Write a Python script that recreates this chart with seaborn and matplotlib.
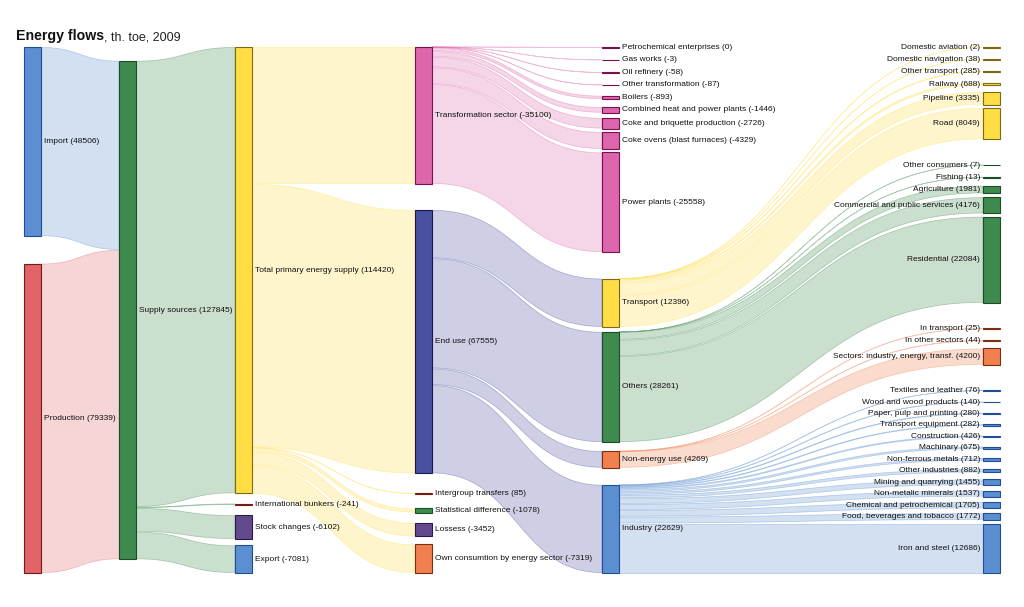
import numpy as np
import matplotlib
matplotlib.use("Agg")
import matplotlib.pyplot as plt
import seaborn as sns
from matplotlib.colors import to_rgb
from matplotlib.patches import Rectangle

# ---------------- data ----------------
title_main = "Energy flows"
title_sub = ", th. toe, 2009"

col0_names = ["Import", "Production"]
col0_values = [48506, 79339]

col1_names = ["Supply sources"]
col1_values = [127845]
col1_parents = [["Import", "Production"]]

col2_names = ["Total primary energy supply", "International bunkers", "Stock changes", "Export"]
col2_values = [114420, -241, -6102, -7081]
col2_parents = ["Supply sources"] * 4

col3_names = ["Transformation sector", "End use", "Intergroup transfers",
              "Statistical difference", "Lossess", "Own consumtion by energy sector"]
col3_values = [-35100, 67555, 85, -1078, -3452, -7319]
col3_parents = ["Total primary energy supply"] * 6

col4_names = ["Petrochemical enterprises", "Gas works", "Oil refinery", "Other transformation",
              "Boilers", "Combined heat and power plants", "Coke and briquette production",
              "Coke ovens (blast furnaces)", "Power plants",
              "Transport", "Others", "Non-energy use", "Industry"]
col4_values = [0, -3, -58, -87, -893, -1446, -2726, -4329, -25558,
               12396, 28261, 4269, 22629]
col4_parents = ["Transformation sector"] * 9 + ["End use"] * 4

col5_names = ["Domestic aviation", "Domestic navigation", "Other transport", "Railway",
              "Pipeline", "Road",
              "Other consumers", "Fishing", "Agriculture", "Commercial and public services",
              "Residential",
              "In transport", "In other sectors", "Sectors: industry, energy, transf.",
              "Textiles and leather", "Wood and wood products", "Paper, pulp and printing",
              "Transport equipment", "Construction", "Machinary", "Non-ferrous metals",
              "Other industries", "Mining and quarrying", "Non-metalic minerals",
              "Chemical and petrochemical", "Food, beverages and tobacco", "Iron and steel"]
col5_values = [2, 38, 285, 688, 3335, 8049,
               7, 13, 1981, 4176, 22084,
               25, 44, 4200,
               76, 140, 280, 282, 426, 675, 712, 882, 1455, 1537, 1705, 1772, 12686]
col5_parents = ["Transport"] * 6 + ["Others"] * 5 + ["Non-energy use"] * 3 + ["Industry"] * 13

# ---------------- style / layout ----------------
PAL = {
    "blue":   ("#5B8FD1", "#1F4E96"),
    "red":    ("#E0646A", "#7A1A14"),
    "green":  ("#3F8A4E", "#1B4D26"),
    "yellow": ("#FFDD44", "#7A6A1A"),
    "pink":   ("#DD66AA", "#7A1050"),
    "indigo": ("#4A50A0", "#1A1A4A"),
    "purple": ("#634A8E", "#2A1A4A"),
    "orange": ("#F08050", "#7A3010"),
}
col_colors = [
    ["blue", "red"],
    ["green"],
    ["yellow", "red", "purple", "blue"],
    ["pink", "indigo", "red", "green", "purple", "orange"],
    ["pink"] * 9 + ["yellow", "green", "orange", "blue"],
    ["yellow"] * 6 + ["green"] * 5 + ["orange"] * 3 + ["blue"] * 13,
]
COL_X = [24, 119, 235, 415, 602, 983]
NODE_W = 17
TOP, BOTTOM = 47, 573
SCALE = 0.00390          # px per th. toe
SLOT_MIN = 9
H_MIN = 0.8
COL_GROUPS = [[1, 1], [1], [1, 1, 1, 1], [1, 1, 4], [9, 4], [6, 5, 3, 13]]
# spacing between neighbours inside a group (number or list of gaps)
COL_INNER = [[0, 0], [0], [0, 0, 0, 0], [0, 0, 8], [3.5, [5, 9, 17]],
             [3.2, 3.2, 3.2, 2.45]]
# relative weights of the gaps between groups
COL_GW = [[1], [1], [1, 1, 1], [1.25, 0.75], [1], [1, 1, 1]]

sns.set_theme(style="white")
plt.rcParams['font.family'] = ['Liberation Sans', 'DejaVu Sans']

columns = [
    (col0_names, col0_values),
    (col1_names, col1_values),
    (col2_names, col2_values),
    (col3_names, col3_values),
    (col4_names, col4_values),
    (col5_names, col5_values),
]


def gap_list(spec, n):
    if isinstance(spec, (list, tuple)):
        return list(spec)
    return [spec] * max(n - 1, 0)


# ---------------- layout ----------------
nodes = {}
for ci, (names, values) in enumerate(columns):
    hpx = [max(abs(v) * SCALE, H_MIN) for v in values]
    slot = [max(h, SLOT_MIN) for h in hpx]
    groups = COL_GROUPS[ci]
    inner = [gap_list(s, n) for s, n in zip(COL_INNER[ci], groups)]
    if len(names) == 1:
        tops = [(TOP + BOTTOM) / 2 - hpx[0] / 2]
    else:
        start = TOP - (slot[0] - hpx[0]) / 2
        end = BOTTOM + (slot[-1] - hpx[-1]) / 2
        used = sum(slot) + sum(sum(g) for g in inner)
        gw = COL_GW[ci]
        free = end - start - used
        Gs = [free * w / sum(gw) for w in gw]
        tops = []
        y = start
        idx = 0
        for gi, n in enumerate(groups):
            for j in range(n):
                tops.append(y + (slot[idx] - hpx[idx]) / 2)
                y += slot[idx]
                if j < n - 1:
                    y += inner[gi][j]
                idx += 1
            if gi < len(groups) - 1:
                y += Gs[gi]
    for i, name in enumerate(names):
        nodes[name] = dict(col=ci, x=COL_X[ci], top=tops[i], h=hpx[i],
                           value=values[i], color=col_colors[ci][i])

# links
links = []
for src in col1_parents[0]:
    links.append((src, col1_names[0], abs(nodes[src]["value"])))
for names, values, parents in [(col2_names, col2_values, col2_parents),
                               (col3_names, col3_values, col3_parents),
                               (col4_names, col4_values, col4_parents),
                               (col5_names, col5_values, col5_parents)]:
    for n, v, p in zip(names, values, parents):
        links.append((p, n, abs(v)))

# ---------------- draw ----------------
fig = plt.figure(figsize=(10.24, 6.07), dpi=100)
ax = fig.add_axes([0, 0, 1, 1])
ax.set_xlim(0, 1024)
ax.set_ylim(607, 0)
ax.axis("off")

out_off = {n: 0.0 for n in nodes}
in_total = {n: 0.0 for n in nodes}
for s, t, v in links:
    in_total[t] += v * SCALE
in_off = {}
for n, d in nodes.items():
    in_off[n] = max(0.0, (d["h"] - in_total[n]) / 2)

t_par = np.linspace(0, 1, 80)
for s, t, v in links:
    S, T = nodes[s], nodes[t]
    w = v * SCALE
    y0 = S["top"] + out_off[s]
    y1 = T["top"] + in_off[t]
    out_off[s] += w
    in_off[t] += w
    x0 = S["x"] + NODE_W
    x1 = T["x"]
    xs = x0 + (x1 - x0) * (1.5 * t_par * (1 - t_par) + t_par ** 3)
    ease = 3 * t_par ** 2 - 2 * t_par ** 3
    inset = min(0.45, w * 0.2)
    ytop = (y0 + inset) + (y1 - y0) * ease
    ybot = (y0 + w - inset) + (y1 - y0) * ease
    rgb = to_rgb(PAL[S["color"]][0])
    ax.fill(np.r_[xs, xs[::-1]], np.r_[ytop, ybot[::-1]],
            facecolor=(*rgb, 0.27), edgecolor=(*rgb, 0.42), linewidth=0.5, zorder=1)

for n, d in nodes.items():
    fc, ec = PAL[d["color"]]
    ax.add_patch(Rectangle((d["x"], d["top"]), NODE_W, d["h"], facecolor=fc,
                           edgecolor=ec, linewidth=0.8, zorder=3))
    label = f"{n} ({d['value']})"
    yc = d["top"] + d["h"] / 2
    if d["col"] == 5:
        ax.text(d["x"] - 3, yc, label, ha="right", va="center", fontsize=6,
                color="#111111", zorder=4)
    else:
        ax.text(d["x"] + NODE_W + 3, yc, label, ha="left", va="center", fontsize=6,
                color="#111111", zorder=4)

t1 = ax.text(16, 40, title_main, fontsize=10.2, fontweight="bold", ha="left",
             va="baseline", color="#111111")
fig.canvas.draw()
bb = t1.get_window_extent()
x_end = ax.transData.inverted().transform((bb.x1, 0))[0]
ax.text(x_end, 40, title_sub, fontsize=9, ha="left", va="baseline", color="#222222")

fig.savefig("out.png", dpi=100)
